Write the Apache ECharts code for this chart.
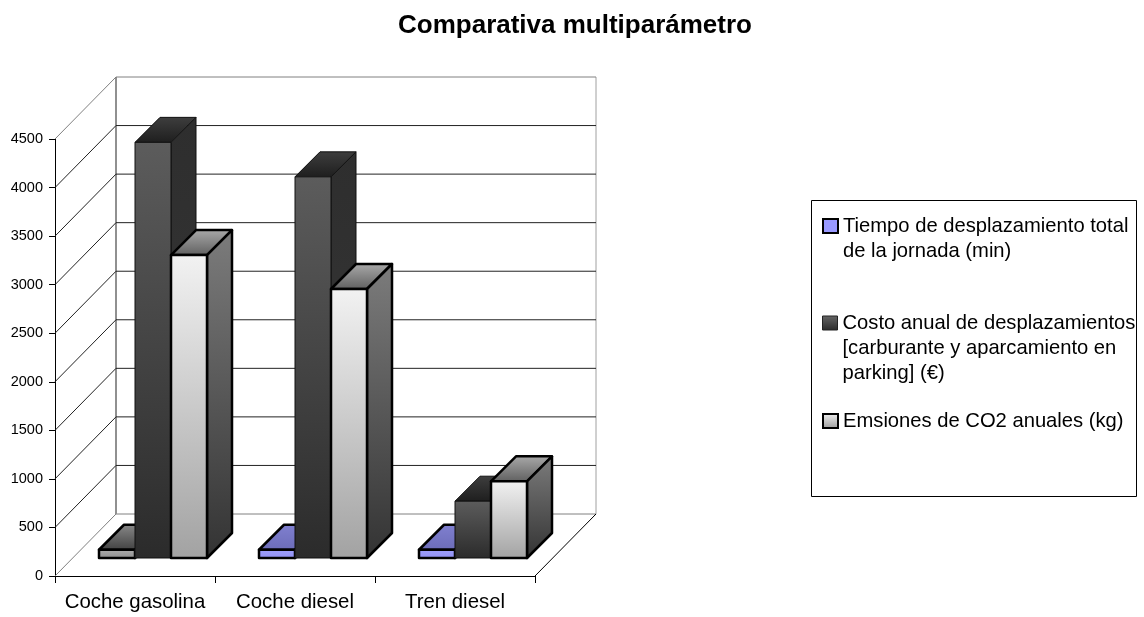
<!DOCTYPE html>
<html><head><meta charset="utf-8">
<style>html,body{margin:0;padding:0;background:#fff}#c{width:1144px;height:617px}</style>
<script src="https://cdn.jsdelivr.net/npm/echarts@6/dist/echarts.min.js"></script>
</head><body><div id="c"></div>
<script>
const categories = ['Coche gasolina', 'Coche diesel', 'Tren diesel'];
const seriesNames = [
  'Tiempo de desplazamiento total\nde la jornada (min)',
  'Costo anual de desplazamientos\n[carburante y aparcamiento en\nparking] (€)',
  'Emsiones de CO2 anuales (kg)'
];
const tiempo = [85, 85, 85];
const costo = [4280, 3925, 585];
const emisiones = [3120, 2770, 790];
const yTicks = [0, 500, 1000, 1500, 2000, 2500, 3000, 3500, 4000, 4500];

const FONT = '"Liberation Sans", Arial, sans-serif';
const GAP = 18, DEPTH = 25, WALL_X = 61, WALL_Y = 62, BAR_W = 36;

function grad(a, b) {
  return { type: 'linear', x: 0, y: 0, x2: 0, y2: 1, colorStops: [{ offset: 0, color: a }, { offset: 1, color: b }] };
}
const skinBlue = { front: ['#a0a0ff', '#9090f0'], side: ['#6a6ab4', '#40406e'], top: ['#8080d0', '#6c6cb8'], line: '#000', lw: 2.5 };
const skinGreyThin = { front: ['#b0b0b0', '#8c8c8c'], side: ['#555', '#333'], top: ['#8a8a8a', '#404040'], line: '#000', lw: 2.5 };
const skinDark = { front: ['#5c5c5c', '#2b2b2b'], side: ['#2e2e2e', '#383838'], top: ['#3e3e3e', '#1e1e1e'], line: '#111', lw: 1 };
const skinLight = { front: ['#f2f2f2', '#a2a2a2'], side: ['#7c7c7c', '#333333'], top: ['#ababab', '#5e5e5e'], line: '#000', lw: 2.5 };
const skins = [[skinGreyThin, skinBlue, skinBlue], [skinDark, skinDark, skinDark], [skinLight, skinLight, skinLight]];

function barSeries(idx, values) {
  return {
    type: 'custom', name: seriesNames[idx], coordinateSystem: 'cartesian2d', clip: false, z: 5 + idx,
    encode: { x: 0, y: 1 },
    data: values.map((v, i) => [i, v]),
    renderItem(params, api) {
      const i = api.value(0), v = api.value(1);
      const top = api.coord([i, v]), base = api.coord([i, 0]);
      const s = skins[idx][i];
      const x0 = top[0] + GAP + (idx - 1.5) * BAR_W, x1 = x0 + BAR_W;
      const yt = top[1] - GAP, yb = base[1] - GAP;
      const sty = (c) => ({ fill: grad(c[0], c[1]), stroke: s.line, lineWidth: s.lw, lineJoin: 'round' });
      return { type: 'group', children: [
        { type: 'polygon', shape: { points: [[x0, yt], [x1, yt], [x1 + DEPTH, yt - DEPTH], [x0 + DEPTH, yt - DEPTH]] }, style: sty(s.top) },
        { type: 'polygon', shape: { points: [[x1, yt], [x1 + DEPTH, yt - DEPTH], [x1 + DEPTH, yb - DEPTH], [x1, yb]] }, style: sty(s.side) },
        { type: 'polygon', shape: { points: [[x0, yt], [x1, yt], [x1, yb], [x0, yb]] }, style: sty(s.front) }
      ] };
    }
  };
}

const wallSeries = {
  type: 'custom', coordinateSystem: 'cartesian2d', clip: false, silent: true, z: 1, tooltip: { show: false },
  encode: { y: 0 },
  data: yTicks.map(t => [t]),
  renderItem(params, api) {
    const v = api.value(0), sys = params.coordSys;
    const y = api.coord([0, v])[1], L = sys.x, R = sys.x + sys.width;
    const isEnd = (v === 0 || v === yTicks[yTicks.length - 1]);
    const col = isEnd ? '#808080' : '#222';
    const kids = [{ type: 'polyline', shape: { points: [[L, y], [L + WALL_X, y - WALL_Y], [R + WALL_X, y - WALL_Y]] },
      style: { fill: 'none', stroke: col, lineWidth: 1 } }];
    if (v === 0) {
      kids.push({ type: 'line', shape: { x1: R, y1: y, x2: R + WALL_X, y2: y - WALL_Y }, style: { stroke: '#000', lineWidth: 1 } });
      kids.push({ type: 'line', shape: { x1: L + WALL_X, y1: y - WALL_Y, x2: L + WALL_X, y2: sys.y - WALL_Y }, style: { stroke: '#909090', lineWidth: 2 } });
      kids.push({ type: 'line', shape: { x1: R + WALL_X, y1: y - WALL_Y, x2: R + WALL_X, y2: sys.y - WALL_Y }, style: { stroke: '#a0a0a0', lineWidth: 1 } });
    }
    return { type: 'group', children: kids };
  }
};

const legendSwatches = [
  { color: '#9999ff', borderColor: '#000', borderWidth: 2 },
  { color: grad('#666666', '#2a2a2a'), borderColor: '#222', borderWidth: 1 },
  { color: grad('#f2f2f2', '#999999'), borderColor: '#000', borderWidth: 2 }
];
const legendLines = seriesNames.map(n => n.split('\n').length);
const legendIconY = [226, 323, 421];
const LEGEND_LH = 25;

const chart = echarts.init(document.getElementById('c'), null, { renderer: 'canvas' });
chart.setOption({
  animation: false,
  backgroundColor: '#fff',
  title: { text: 'Comparativa multiparámetro', left: 570, top: 8, textAlign: 'center',
    textStyle: { fontFamily: FONT, fontSize: 26, fontWeight: 'bold', color: '#000' } },
  grid: { left: 55, top: 139, width: 480, height: 437, containLabel: false },
  xAxis: { type: 'category', data: categories, boundaryGap: true,
    axisLine: { lineStyle: { color: '#000', width: 1 } },
    axisTick: { show: true, length: 7, alignWithLabel: false, lineStyle: { color: '#000' } },
    axisLabel: { fontFamily: FONT, fontSize: 20.4, color: '#000', margin: 16, interval: 0 },
    splitLine: { show: false } },
  yAxis: { type: 'value', min: 0, max: 4500, interval: 500,
    axisLine: { show: true, lineStyle: { color: '#000', width: 1 } },
    axisTick: { show: true, length: 6, lineStyle: { color: '#000' } },
    axisLabel: { fontFamily: FONT, fontSize: 14.5, color: '#000', margin: 12, formatter: v => String(v) },
    splitLine: { show: false } },
  legend: seriesNames.map((n, k) => ({
    show: true, orient: 'vertical', left: 822, top: legendIconY[k] - (2 * legendLines[k] - 1) * LEGEND_LH / 2,
    itemWidth: 15, itemHeight: 14, itemGap: 8, padding: 0,
    data: [{ name: n, icon: 'rect', itemStyle: legendSwatches[k] }], selectedMode: false,
    formatter: s => '\n'.repeat(legendLines[k] - 1) + s,
    textStyle: { fontFamily: FONT, fontSize: 20.2, color: '#000', lineHeight: LEGEND_LH }
  })),
  graphic: [{ type: 'rect', silent: true, z: -1, shape: { x: 811.5, y: 200.5, width: 325, height: 296 },
    style: { fill: '#fff', stroke: '#000', lineWidth: 1 } }],
  series: [wallSeries, barSeries(0, tiempo), barSeries(1, costo), barSeries(2, emisiones)]
});
</script></body></html>
